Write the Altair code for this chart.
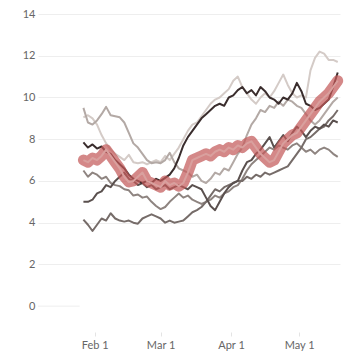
import altair as alt
import pandas as pd

dates = [
    "2020-01-27", "2020-01-29", "2020-01-31",
    "2020-02-02", "2020-02-04", "2020-02-06", "2020-02-08", "2020-02-10", "2020-02-12", "2020-02-14",
    "2020-02-16", "2020-02-18", "2020-02-20", "2020-02-22", "2020-02-24", "2020-02-26", "2020-02-28",
    "2020-03-01", "2020-03-03", "2020-03-05", "2020-03-07", "2020-03-09", "2020-03-11", "2020-03-13",
    "2020-03-15", "2020-03-17", "2020-03-19", "2020-03-21", "2020-03-23", "2020-03-25", "2020-03-27",
    "2020-03-29", "2020-03-31",
    "2020-04-02", "2020-04-04", "2020-04-06", "2020-04-08", "2020-04-10", "2020-04-12", "2020-04-14",
    "2020-04-16", "2020-04-18", "2020-04-20", "2020-04-22", "2020-04-24", "2020-04-26", "2020-04-28",
    "2020-04-30",
    "2020-05-02", "2020-05-04", "2020-05-06", "2020-05-08", "2020-05-10", "2020-05-12", "2020-05-14",
    "2020-05-16", "2020-05-18",
]

s_lightest = [9.05, 9.15, 9.0,
              8.7, 8.2, 7.8, 7.5, 7.3, 7.15, 7.0, 7.25, 6.9, 6.85, 6.9, 6.8, 6.9, 7.0,
              6.9, 7.2, 7.0, 7.3, 7.6, 8.0, 8.4, 8.7, 8.8, 9.1, 9.4, 9.7, 9.9, 10.0, 10.2, 10.4,
              10.8, 11.0, 10.5, 10.2, 9.9, 9.7, 10.0, 10.2, 10.0, 10.3, 10.7, 11.1, 10.6, 10.2, 10.0,
              10.1, 10.0, 11.3, 11.9, 12.2, 12.1, 11.8, 11.8, 11.7]
s_light = [9.5, 8.8, 8.7,
           8.9, 9.2, 9.55, 9.15, 9.1, 9.05, 8.8, 8.3, 7.8, 7.6, 7.3, 7.0, 6.85, 6.9,
           6.85, 7.0, 7.35, 6.9, 6.6, 6.5, 6.4, 6.2, 6.3, 6.0, 5.9, 6.1, 6.4, 6.3, 6.6, 6.5,
           6.9, 7.3, 7.6, 8.2, 8.7, 9.0, 9.4, 9.3, 9.6, 9.5, 9.8, 9.6, 9.9, 9.8, 9.6,
           9.5, 9.2, 8.9, 8.7, 8.9, 9.2, 9.5, 9.8, 10.0]
s_medium = [6.5, 6.2, 6.4,
            6.3, 6.1, 6.2, 5.9, 5.8, 5.75, 5.6, 5.55, 5.3, 5.35, 5.2, 5.25, 5.0, 4.8,
            4.65, 4.75, 5.0, 5.2, 5.4, 5.2, 5.3, 5.1, 5.0, 4.9, 5.0, 5.1, 5.3, 5.2, 5.4, 5.5,
            5.7, 5.8, 6.1, 6.5, 6.8, 7.0, 7.2, 7.4, 7.6, 7.5, 7.7, 7.6, 7.5, 7.7, 7.8,
            7.6, 7.4, 7.5, 7.3, 7.5, 7.6, 7.5, 7.3, 7.15]
s_meddark = [4.15, 3.9, 3.6,
             3.9, 4.2, 4.1, 4.45, 4.2, 4.1, 4.05, 4.1, 4.0, 3.95, 4.2, 4.3, 4.4, 4.3,
             4.2, 4.0, 4.1, 4.0, 4.05, 4.1, 4.3, 4.5, 4.6, 4.75, 5.0, 5.3, 5.6, 5.5, 5.7, 5.8,
             5.9, 6.0, 6.0, 6.2, 6.1, 6.3, 6.2, 6.4, 6.3, 6.4, 6.5, 6.6, 6.7, 7.0, 7.3,
             7.6, 8.0, 8.1, 8.3, 8.5, 8.6, 8.9, 9.1, 9.4]
s_dark = [5.0, 5.0, 5.1,
          5.4, 5.5, 5.8, 5.7, 6.0, 6.2, 6.4, 6.1, 6.0, 5.8, 5.9, 5.7, 5.8, 5.6,
          5.7, 5.8, 5.6, 5.7, 5.8, 5.7, 5.6, 5.8, 5.7, 5.6, 5.2, 4.8, 4.6, 5.0, 5.4, 5.7,
          5.9, 6.0, 6.5, 6.9, 7.0, 7.3, 7.5, 7.8, 8.1, 7.6, 7.9, 8.2, 7.9, 8.3, 8.6,
          8.4, 8.1, 8.4, 8.6, 8.5, 8.7, 8.6, 8.9, 8.8]
s_darkest = [7.85, 7.6, 7.75,
             7.55, 7.65, 7.4, 7.3, 7.0, 6.8, 6.6, 6.3, 6.1, 6.0, 5.9, 6.0, 5.9, 6.1,
             6.0, 6.15, 6.3, 6.6, 7.1, 7.7, 8.1, 8.4, 8.7, 9.0, 9.2, 9.4, 9.6, 9.7, 9.6, 10.0,
             10.1, 10.35, 10.5, 10.2, 10.35, 10.1, 10.5, 10.3, 10.0, 9.9, 9.7, 10.0, 9.9, 10.2, 10.7,
             10.3, 9.7, 9.6, 9.4, 9.5, 9.7, 9.9, 10.5, 11.2]
s_highlight = [7.0, 6.9, 7.1,
               7.0, 7.2, 7.5, 7.2, 6.9, 6.6, 6.2, 5.95, 6.0, 6.2, 6.4, 6.0, 5.9, 5.8,
               5.7, 6.0, 5.8, 5.9, 5.75, 5.9, 6.4, 7.0, 7.1, 7.2, 7.3, 7.2, 7.4, 7.5, 7.4, 7.6,
               7.5, 7.7, 7.6, 7.8, 7.9, 7.6, 7.3, 7.1, 6.9, 7.0, 7.4, 7.8, 8.0, 8.2, 8.3,
               8.6, 8.9, 9.2, 9.5, 9.8, 10.0, 10.2, 10.5, 10.8]

series_names = ["s1", "s2", "s3", "s4", "s5", "s6"]
series_values = [s_lightest, s_light, s_medium, s_meddark, s_dark, s_darkest]
series_colors = ["#d4cbc7", "#b3a9a5", "#8e8480", "#766c69", "#5a504e", "#3a2d2d"]

y_ticks = [0, 2, 4, 6, 8, 10, 12, 14]
x_ticks = [(2020, 2, 1), (2020, 3, 1), (2020, 4, 1), (2020, 5, 1)]
x_domain = [(2020, 1, 7), (2020, 5, 19)]
zero_rule = {"start": "2020-01-07T00:00:00", "end": "2020-01-25T08:00:00", "value": 0}

rows = []
for name, vals in zip(series_names, series_values):
    for d, v in zip(dates, vals):
        rows.append({"date": d + "T00:00:00", "value": v, "series": name})
df = pd.DataFrame(rows)
df_h = pd.DataFrame({"date": [d + "T00:00:00" for d in dates], "value": s_highlight})
df_zero = pd.DataFrame([zero_rule])

FONT = "Lato"
x_scale = alt.Scale(domain=[alt.DateTime(year=a, month=b, date=c) for a, b, c in x_domain])
y_scale = alt.Scale(domain=[-1, 14], nice=False, zero=False)

x_axis = alt.Axis(
    values=[alt.DateTime(year=a, month=b, date=c) for a, b, c in x_ticks],
    format="%b %-d", title=None, grid=False, domain=False,
    tickSize=4, tickColor="#e4e4e4", offset=5, labelPadding=3,
    labelFont=FONT, labelFontSize=11, labelColor="#666666",
)
y_axis = alt.Axis(
    values=y_ticks, title=None, domain=False, ticks=False, labelPadding=3,
    labelFont=FONT, labelFontSize=11, labelColor="#666666",
    gridColor={"condition": {"test": "datum.value === 0", "value": "transparent"}, "value": "#eeeeee"},
)

zero = alt.Chart(df_zero).mark_rule(color="#eeeeee", strokeWidth=1).encode(
    x=alt.X("start:T", scale=x_scale, axis=x_axis),
    x2="end:T",
    y=alt.Y("value:Q", scale=y_scale, axis=y_axis),
)

lines = alt.Chart(df).mark_line(strokeWidth=2, strokeJoin="round").encode(
    x=alt.X("date:T", scale=x_scale, axis=x_axis),
    y=alt.Y("value:Q", scale=y_scale, axis=y_axis),
    color=alt.Color("series:N", scale=alt.Scale(domain=series_names, range=series_colors), legend=None),
)

band = alt.Chart(df_h).mark_line(
    strokeWidth=11, color="#c45a5a", opacity=0.72, strokeCap="round", strokeJoin="round"
).encode(
    x=alt.X("date:T", scale=x_scale),
    y=alt.Y("value:Q", scale=y_scale),
)

inner = alt.Chart(df_h).mark_line(strokeWidth=2, color="#d9a09e", strokeJoin="round").encode(
    x=alt.X("date:T", scale=x_scale),
    y=alt.Y("value:Q", scale=y_scale),
)

chart = alt.layer(zero, lines, band, inner).properties(
    width=302, height=313,
    autosize=alt.AutoSizeParams(type="none"),
    padding={"left": 38, "top": 14, "right": 10, "bottom": 32},
).configure_view(stroke=None)

chart.save("out.html", embed_options={"renderer": "svg", "actions": False})
